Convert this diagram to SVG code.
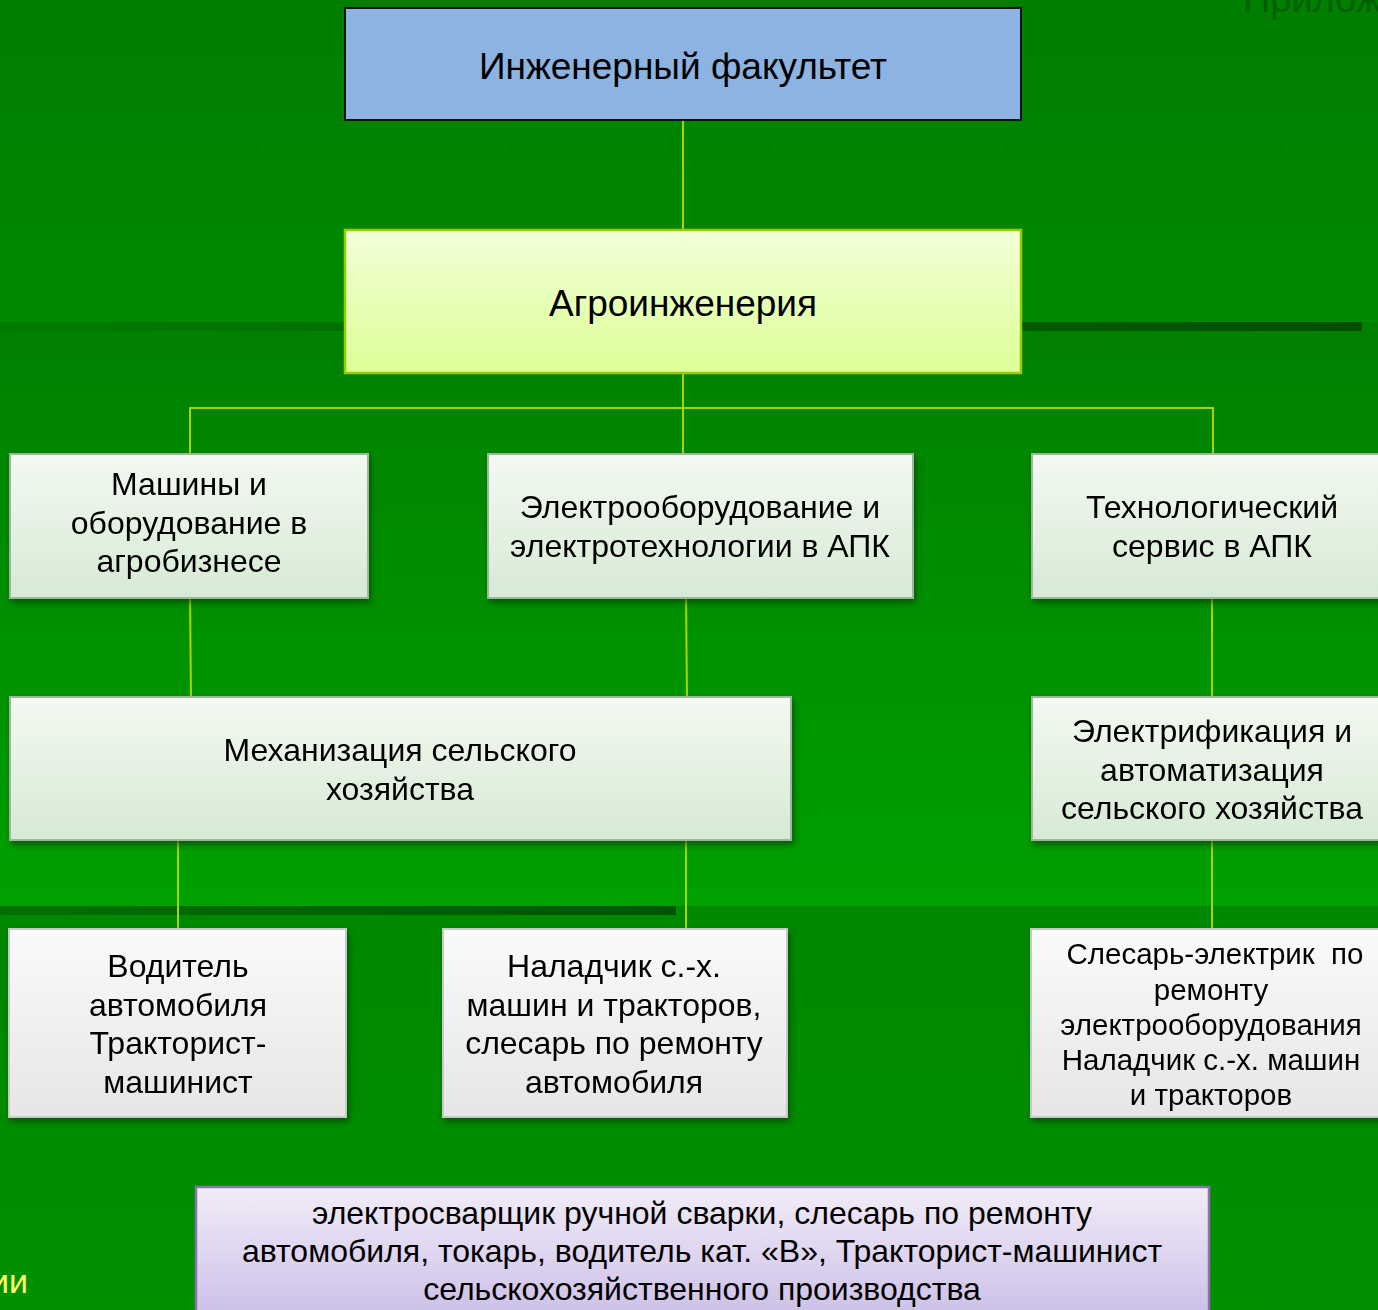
<svg xmlns="http://www.w3.org/2000/svg" width="1378" height="1310" viewBox="0 0 1378 1310">
<style>
text{font-family:"Liberation Sans",Arial,sans-serif;fill:#000;text-anchor:middle}
.t32{font-size:32px}
.t37{font-size:37px}
.t29{font-size:29.5px}
.conn{stroke:#a8d400;stroke-width:2;fill:none}
.green{fill:url(#gNode);stroke:#9fb59f;stroke-width:2}
.grey{fill:url(#gGrey);stroke:#c8c8c8;stroke-width:2}
</style>
<defs>
<linearGradient id="bg1" x1="0" y1="0" x2="0" y2="1"><stop offset="0" stop-color="#007e00"/><stop offset="1" stop-color="#008a00"/></linearGradient>
<linearGradient id="bg2" x1="0" y1="0" x2="0" y2="1"><stop offset="0" stop-color="#008000"/><stop offset="1" stop-color="#00a000"/></linearGradient>
<linearGradient id="bg3" x1="0" y1="0" x2="0" y2="1"><stop offset="0" stop-color="#008800"/><stop offset="1" stop-color="#009000"/></linearGradient>
<linearGradient id="bar1" x1="0" y1="0" x2="1" y2="0"><stop offset="0" stop-color="#007c00"/><stop offset="0.35" stop-color="#006c00"/><stop offset="1" stop-color="#004f00"/></linearGradient>
<linearGradient id="bar2" x1="0" y1="0" x2="1" y2="0"><stop offset="0" stop-color="#007000"/><stop offset="1" stop-color="#005400"/></linearGradient>
<linearGradient id="gAgro" x1="0" y1="0" x2="0" y2="1"><stop offset="0" stop-color="#f2ffd8"/><stop offset="1" stop-color="#dcff96"/></linearGradient>
<linearGradient id="gNode" x1="0" y1="0" x2="0" y2="1"><stop offset="0" stop-color="#f3f9f1"/><stop offset="1" stop-color="#d6ead4"/></linearGradient>
<linearGradient id="gGrey" x1="0" y1="0" x2="0" y2="1"><stop offset="0" stop-color="#fafafa"/><stop offset="1" stop-color="#e6e6e6"/></linearGradient>
<linearGradient id="gPurple" x1="0" y1="0" x2="0" y2="1"><stop offset="0" stop-color="#f2ecf8"/><stop offset="1" stop-color="#c9bce6"/></linearGradient>
<filter id="sh" x="-5%" y="-10%" width="115%" height="130%"><feDropShadow dx="2" dy="4" stdDeviation="3" flood-color="#003000" flood-opacity="0.6"/></filter>
</defs>

<g id="background">
<rect x="0" y="0" width="1378" height="322" fill="url(#bg1)"/>
<rect x="0" y="322" width="1378" height="584" fill="url(#bg2)"/>
<rect x="0" y="906" width="1378" height="404" fill="url(#bg3)"/>
<rect x="0" y="322" width="1362" height="9" fill="url(#bar1)"/>
<rect x="0" y="906" width="676" height="9" fill="url(#bar2)"/>
<text x="1243" y="12" style="font-size:38px;fill:#006000;text-anchor:start">Приложение</text>
<text x="28" y="1293" style="font-size:34px;fill:#ffff66;text-anchor:end">ии</text>
</g>

<g id="connectors">
<line class="conn" x1="683" y1="120" x2="683" y2="230"/>
<line class="conn" x1="683" y1="373" x2="683" y2="454"/>
<polyline class="conn" points="190,454 190,408 1213,408 1213,454"/>
<line class="conn" x1="190" y1="598" x2="191" y2="697"/>
<line class="conn" x1="686" y1="598" x2="687" y2="697"/>
<line class="conn" x1="1212" y1="598" x2="1212" y2="697"/>
<line class="conn" x1="178" y1="840" x2="178" y2="929"/>
<line class="conn" x1="686" y1="840" x2="686" y2="929"/>
<line class="conn" x1="1212" y1="840" x2="1212" y2="929"/>
</g>

<g id="n-faculty">
<rect x="345" y="8" width="676" height="112" fill="#8db3e2" stroke="#111" stroke-width="2"/>
<text class="t37" x="683" y="79">Инженерный факультет</text>
</g>

<g id="n-agro">
<rect x="345" y="230" width="676" height="143" fill="url(#gAgro)" stroke="#99cc00" stroke-width="2.5"/>
<text class="t37" x="683" y="316">Агроинженерия</text>
</g>

<g id="n-machines" filter="url(#sh)">
<rect class="green" x="10" y="454" width="358" height="144"/>
<text class="t32"><tspan x="189" y="495">Машины и</tspan><tspan x="189" y="534">оборудование в</tspan><tspan x="189" y="572">агробизнесе</tspan></text>
</g>

<g id="n-electro" filter="url(#sh)">
<rect class="green" x="488" y="454" width="425" height="144"/>
<text class="t32"><tspan x="700" y="518">Электрооборудование и</tspan><tspan x="700" y="557">электротехнологии в АПК</tspan></text>
</g>

<g id="n-service" filter="url(#sh)">
<rect class="green" x="1032" y="454" width="360" height="144"/>
<text class="t32"><tspan x="1212" y="518">Технологический</tspan><tspan x="1212" y="557">сервис в АПК</tspan></text>
</g>

<g id="n-mech" filter="url(#sh)">
<rect class="green" x="10" y="697" width="781" height="143"/>
<text class="t32"><tspan x="400" y="761">Механизация сельского</tspan><tspan x="400" y="800">хозяйства</tspan></text>
</g>

<g id="n-electrif" filter="url(#sh)">
<rect class="green" x="1032" y="697" width="360" height="143"/>
<text class="t32"><tspan x="1212" y="742">Электрификация и</tspan><tspan x="1212" y="781">автоматизация</tspan><tspan x="1212" y="819">сельского хозяйства</tspan></text>
</g>

<g id="n-driver" filter="url(#sh)">
<rect class="grey" x="9" y="929" width="337" height="188"/>
<text class="t32"><tspan x="178" y="977">Водитель</tspan><tspan x="178" y="1016">автомобиля</tspan><tspan x="178" y="1054">Тракторист-</tspan><tspan x="178" y="1093">машинист</tspan></text>
</g>

<g id="n-adjuster" filter="url(#sh)">
<rect class="grey" x="443" y="929" width="344" height="188"/>
<text class="t32"><tspan x="614" y="977">Наладчик с.-х.</tspan><tspan x="614" y="1016">машин и тракторов,</tspan><tspan x="614" y="1054">слесарь по ремонту</tspan><tspan x="614" y="1093">автомобиля</tspan></text>
</g>

<g id="n-electrician" filter="url(#sh)">
<rect class="grey" x="1031" y="929" width="360" height="188"/>
<text class="t29"><tspan x="1215" y="964">Слесарь-электрик&#160; по</tspan><tspan x="1211" y="1000">ремонту</tspan><tspan x="1211" y="1035">электрооборудования</tspan><tspan x="1211" y="1070">Наладчик с.-х. машин</tspan><tspan x="1211" y="1105">и тракторов</tspan></text>
</g>

<g id="n-bottom">
<rect x="196" y="1187" width="1013" height="140" fill="url(#gPurple)" stroke="#8a72b0" stroke-width="2.5"/>
<text class="t32"><tspan x="702" y="1224">электросварщик ручной сварки, слесарь по ремонту</tspan><tspan x="702" y="1262">автомобиля, токарь, водитель кат. «В», Тракторист-машинист</tspan><tspan x="702" y="1300">сельскохозяйственного производства</tspan></text>
</g>
</svg>
